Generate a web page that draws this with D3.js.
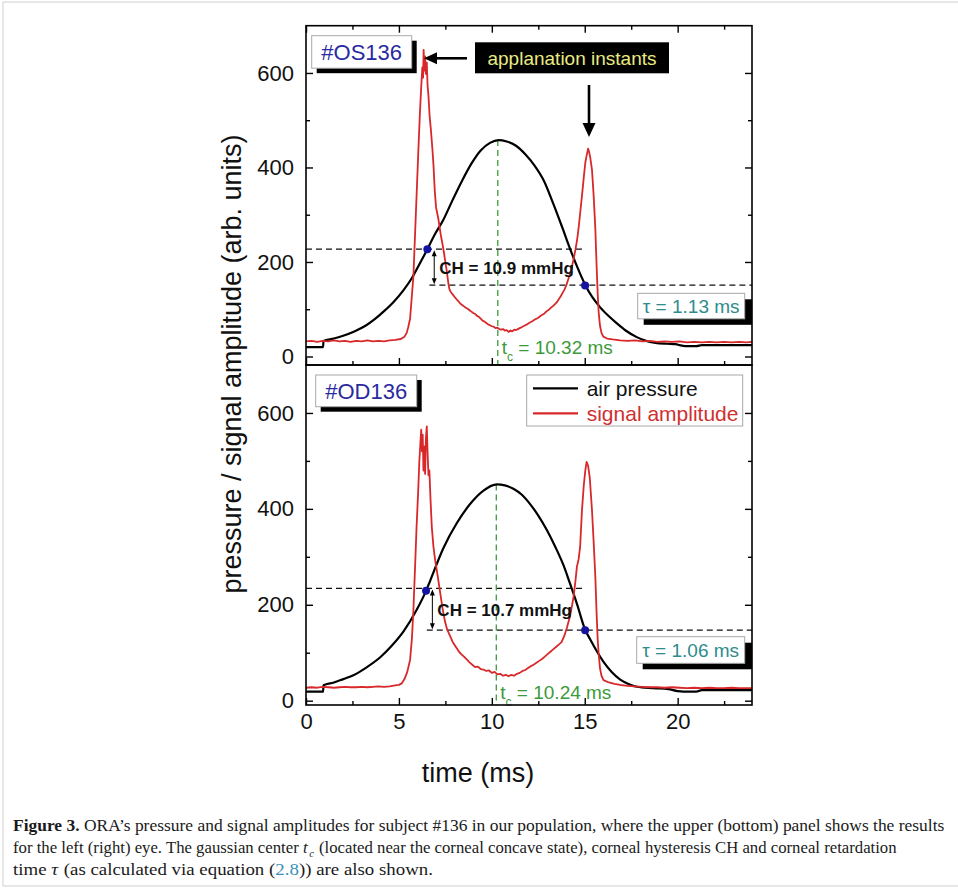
<!DOCTYPE html>
<html>
<head>
<meta charset="utf-8">
<script src="https://cdn.jsdelivr.net/npm/d3@7"></script>
<style>
  body { margin: 0; background: #fff; }
  svg { display: block; font-family: "Liberation Sans", Arial, sans-serif; }
</style>
</head>
<body>
<svg id="fig" width="958" height="888"></svg>
<script>
// ---- axes ----
const xDomain = [0, 24];
const xMajor = [0, 5, 10, 15, 20];
const xMinor = [2.5, 7.5, 12.5, 17.5, 22.5];
const yMajor = [0, 200, 400, 600];
const yMinor = [100, 300, 500];
const yDomains = [[-18, 700], [-9, 700]];

// ---- panel annotations ----
const panelIds = ["#OS136", "#OD136"];
const tcValues = [10.32, 10.24];
const tcPeaks = [458, 451];
const chLabels = ["CH = 10.9 mmHg", "CH = 10.7 mmHg"];
const chArrowTime = [6.9, 6.8];
const tauLabels = ["\u03c4 = 1.13 ms", "\u03c4 = 1.06 ms"];
const upperLevels = [227, 234];
const lowerLevels = [151, 147];
const upperSpan = [[0, 14.85], [0, 14.85]];
const lowerSpan = [[6.64, 24], [6.5, 24]];
const applanationPoints = [
  [[6.53, 227], [15.02, 150]],
  [[6.46, 229], [15.02, 147]]
];
const legendNames = ["air pressure", "signal amplitude"];

// ---- left eye (#OS136): air pressure, [time ms, amplitude] ----
const osPressure = [
  [0, 20], [0.92, 20], [0.94, 33], [1.5, 38], [2.0, 44], [2.6, 53], [3.2, 65], [3.7, 79],
  [4.2, 96], [4.7, 115], [5.24, 140], [5.7, 166], [6.1, 195], [6.53, 227], [6.9, 256],
  [7.4, 290], [7.9, 332], [8.4, 372], [8.9, 408], [9.4, 436], [9.9, 452], [10.36, 458],
  [10.8, 455], [11.3, 446], [11.8, 428], [12.3, 404], [12.8, 372], [13.3, 324], [13.8, 272],
  [14.2, 229], [14.6, 189], [15.02, 152], [15.4, 126], [15.83, 104], [16.3, 85], [16.73, 70],
  [17.2, 55], [17.8, 41], [18.3, 33], [18.8, 29], [19.4, 27], [19.9, 26], [20.1, 24],
  [20.4, 22], [21.0, 22], [21.3, 24], [22.0, 24], [24, 24]
];

// ---- left eye (#OS136): reflected signal amplitude ----
const osSignal = [
  [0, 32], [0.3, 33], [0.6, 31], [0.9, 33], [1.2, 32], [1.5, 34], [1.8, 32], [2.1, 33],
  [2.4, 31], [2.7, 33], [3.0, 32], [3.3, 34], [3.6, 32], [3.9, 33], [4.2, 32], [4.5, 34],
  [4.8, 35], [5.1, 37], [5.3, 42], [5.42, 50], [5.5, 62], [5.6, 80], [5.68, 120], [5.78, 170],
  [5.87, 260], [5.95, 340], [6.04, 430], [6.13, 515], [6.2, 570], [6.26, 612], [6.3, 590],
  [6.33, 649], [6.37, 605], [6.41, 635], [6.45, 598], [6.5, 622], [6.54, 575], [6.59, 552],
  [6.65, 510], [6.72, 480], [6.8, 440], [6.86, 405], [6.93, 350], [7.0, 315], [7.12, 292],
  [7.25, 258], [7.39, 228], [7.48, 205], [7.57, 182], [7.66, 155], [7.72, 142], [7.8, 136],
  [7.9, 131], [8.0, 126], [8.1, 121], [8.2, 117], [8.3, 112], [8.4, 109], [8.5, 106],
  [8.6, 103], [8.7, 101], [8.8, 98], [8.9, 95], [9.0, 92], [9.1, 90], [9.2, 86], [9.3, 84],
  [9.4, 80], [9.5, 76], [9.6, 74], [9.7, 71], [9.8, 68], [9.9, 66], [10.0, 64], [10.1, 63],
  [10.2, 60], [10.3, 61], [10.4, 58], [10.5, 57], [10.6, 58], [10.7, 55], [10.8, 56],
  [10.9, 52], [11.0, 55], [11.1, 53], [11.2, 57], [11.3, 56], [11.4, 58], [11.5, 60],
  [11.6, 62], [11.7, 64], [11.8, 66], [11.9, 68], [12.0, 71], [12.1, 73], [12.2, 75],
  [12.3, 78], [12.4, 80], [12.5, 82], [12.6, 85], [12.7, 88], [12.8, 90], [12.9, 94],
  [13.0, 97], [13.1, 100], [13.2, 104], [13.3, 107], [13.4, 111], [13.5, 115], [13.6, 121],
  [13.7, 127], [13.8, 134], [13.9, 141], [14.0, 150], [14.1, 162], [14.2, 174], [14.3, 188],
  [14.4, 206], [14.5, 226], [14.6, 250], [14.67, 272], [14.75, 302], [14.85, 340],
  [14.95, 380], [15.03, 410], [15.1, 425], [15.18, 440], [15.24, 432], [15.3, 420],
  [15.39, 395], [15.48, 340], [15.57, 270], [15.64, 190], [15.7, 130], [15.75, 93],
  [15.82, 65], [15.9, 50], [16.0, 42], [16.2, 38], [16.5, 36], [16.9, 34], [17.3, 33],
  [17.7, 34], [18.1, 32], [18.5, 33], [18.9, 31], [19.3, 32], [19.7, 31], [20.1, 32],
  [20.5, 30], [20.9, 31], [21.3, 30], [21.7, 31], [22.1, 30], [22.5, 31], [22.9, 30],
  [23.3, 31], [23.7, 30], [24, 31]
];

// ---- right eye (#OD136): air pressure ----
const odPressure = [
  [0, 19], [0.92, 19], [0.94, 32], [1.5, 38], [2.0, 45], [2.55, 53], [3.2, 68], [3.98, 90],
  [4.6, 114], [5.24, 144], [5.95, 189], [6.46, 229], [6.68, 250], [7.39, 318], [8.11, 370],
  [8.83, 410], [9.55, 438], [10.27, 451], [10.7, 449], [11.16, 442], [11.6, 430],
  [12.06, 410], [12.5, 386], [12.96, 356], [13.4, 322], [13.86, 282], [14.2, 245],
  [14.58, 202], [15.02, 148], [15.29, 128], [15.65, 103], [16.01, 81], [16.45, 60],
  [16.91, 44], [17.35, 35], [17.8, 29], [18.7, 26], [19.5, 24], [20.0, 20], [20.3, 19],
  [21.0, 19], [21.3, 22], [22.0, 22], [24, 22]
];

// ---- right eye (#OD136): reflected signal amplitude ----
const odSignal = [
  [0, 27], [0.3, 28], [0.6, 27], [0.9, 29], [1.2, 28], [1.5, 27], [1.8, 28], [2.1, 29],
  [2.4, 28], [2.7, 28], [3.0, 29], [3.3, 28], [3.6, 29], [3.9, 30], [4.2, 29], [4.5, 30],
  [4.8, 32], [5.0, 33], [5.15, 36], [5.3, 45], [5.45, 60], [5.6, 85], [5.7, 130], [5.78, 189],
  [5.86, 270], [5.95, 362], [6.04, 440], [6.1, 500], [6.16, 540], [6.2, 565], [6.24, 520],
  [6.28, 555], [6.32, 480], [6.36, 530], [6.41, 473], [6.45, 545], [6.5, 572], [6.54, 520],
  [6.59, 470], [6.64, 480], [6.7, 420], [6.77, 362], [6.86, 320], [6.95, 293], [7.08, 262],
  [7.21, 228], [7.35, 192], [7.48, 165], [7.6, 148], [7.75, 135], [7.9, 122], [8.05, 113],
  [8.2, 104], [8.35, 97], [8.5, 92], [8.65, 86], [8.8, 80], [8.95, 75], [9.1, 70], [9.25, 71],
  [9.4, 66], [9.55, 65], [9.7, 62], [9.85, 63], [10.0, 58], [10.15, 60], [10.3, 55],
  [10.45, 56], [10.6, 52], [10.75, 54], [10.9, 51], [11.05, 54], [11.2, 52], [11.35, 56],
  [11.5, 58], [11.65, 62], [11.8, 64], [11.95, 68], [12.1, 72], [12.25, 75], [12.4, 79],
  [12.55, 83], [12.7, 87], [12.85, 92], [13.0, 97], [13.15, 102], [13.3, 107], [13.45, 112],
  [13.6, 117], [13.75, 122], [13.9, 135], [14.04, 152], [14.2, 175], [14.3, 195], [14.4, 217],
  [14.5, 250], [14.58, 280], [14.67, 295], [14.75, 320], [14.85, 397], [14.95, 450],
  [15.03, 480], [15.1, 498], [15.18, 490], [15.27, 465], [15.39, 397], [15.48, 330],
  [15.57, 258], [15.64, 180], [15.7, 125], [15.75, 97], [15.82, 68], [15.9, 52], [16.01, 43],
  [16.3, 38], [16.6, 35], [16.9, 33], [17.3, 31], [17.7, 30], [18.1, 29], [18.5, 28],
  [18.9, 28], [19.3, 27], [19.7, 28], [20.1, 27], [20.5, 26], [20.9, 27], [21.3, 26],
  [21.7, 27], [22.1, 26], [22.5, 26], [22.9, 27], [23.3, 26], [23.7, 26], [24, 26]
];

// ---- style ----
const RED = "#d8282a";
const GREEN = "#3b9a3b";
const BLUE_DOT = "#1414a0";
const ID_BLUE = "#2a2aa0";
const TEAL = "#2e8c8c";

const svg = d3.select("#fig");

// thin page frame
svg.append("path")
  .attr("d", "M958,2H3V886H958")
  .attr("fill", "none").attr("stroke", "#cfcfcf").attr("stroke-width", 1);

const plotLeft = 306, plotRight = 752;
const bands = [[25.7, 365], [365, 705]];
const x = d3.scaleLinear().domain(xDomain).range([plotLeft, plotRight]);

const panels = [
  { pressure: osPressure, signal: osSignal },
  { pressure: odPressure, signal: odSignal }
];

const defs = svg.append("defs");

function arrowHead(g, tipX, tipY, dir, len, half) {
  // dir: "left", "down", "up"
  let pts;
  if (dir === "left") pts = [[tipX, tipY], [tipX + len, tipY - half], [tipX + len, tipY + half]];
  else if (dir === "down") pts = [[tipX, tipY], [tipX - half, tipY - len], [tipX + half, tipY - len]];
  else pts = [[tipX, tipY], [tipX - half, tipY + len], [tipX + half, tipY + len]];
  g.append("path").attr("d", "M" + pts.map(p => p.join(",")).join("L") + "Z").attr("fill", "#000");
}

panels.forEach((p, i) => {
  const [top, bottom] = bands[i];
  const y = d3.scaleLinear().domain(yDomains[i]).range([bottom, top]);
  const g = svg.append("g");

  const clipId = "clip" + i;
  defs.append("clipPath").attr("id", clipId)
    .append("rect").attr("x", plotLeft).attr("y", top)
    .attr("width", plotRight - plotLeft).attr("height", bottom - top);
  const plot = g.append("g").attr("clip-path", `url(#${clipId})`);

  // dashed applanation levels
  plot.append("line")
    .attr("x1", x(upperSpan[i][0])).attr("x2", x(upperSpan[i][1]))
    .attr("y1", y(upperLevels[i])).attr("y2", y(upperLevels[i]))
    .attr("stroke", "#111").attr("stroke-width", 1.2).attr("stroke-dasharray", "6,4");
  plot.append("line")
    .attr("x1", x(lowerSpan[i][0])).attr("x2", x(lowerSpan[i][1]))
    .attr("y1", y(lowerLevels[i])).attr("y2", y(lowerLevels[i]))
    .attr("stroke", "#111").attr("stroke-width", 1.2).attr("stroke-dasharray", "6,4");

  // gaussian centre
  plot.append("line")
    .attr("x1", x(tcValues[i])).attr("x2", x(tcValues[i]))
    .attr("y1", y(tcPeaks[i])).attr("y2", bottom)
    .attr("stroke", GREEN).attr("stroke-width", 1.3).attr("stroke-dasharray", "6,4");

  const line = d3.line().x(d => x(d[0])).y(d => y(d[1])).curve(d3.curveLinear);
  const smooth = d3.line().x(d => x(d[0])).y(d => y(d[1])).curve(d3.curveMonotoneX);

  plot.append("path").datum(p.pressure).attr("d", smooth)
    .attr("fill", "none").attr("stroke", "#000").attr("stroke-width", 2.2);
  plot.append("path").datum(p.signal).attr("d", line)
    .attr("fill", "none").attr("stroke", RED).attr("stroke-width", 1.8)
    .attr("stroke-linejoin", "round");

  // applanation points
  plot.selectAll("circle.pt").data(applanationPoints[i]).enter().append("circle")
    .attr("cx", d => x(d[0])).attr("cy", d => y(d[1])).attr("r", 4)
    .attr("fill", BLUE_DOT);

  // CH double arrow and label
  const ax = x(chArrowTime[i]);
  const yU = y(upperLevels[i]), yL = y(lowerLevels[i]);
  g.append("line").attr("x1", ax).attr("x2", ax).attr("y1", yU + 4).attr("y2", yL - 4)
    .attr("stroke", "#000").attr("stroke-width", 1);
  arrowHead(g, ax, yU + 1, "up", 6, 2.5);
  arrowHead(g, ax, yL - 1, "down", 6, 2.5);
  g.append("text").attr("x", ax + 5).attr("y", (yU + yL) / 2 + 7)
    .attr("font-size", 17).attr("font-weight", "bold").attr("fill", "#111")
    .text(chLabels[i]);

  // t_c label
  const tcText = g.append("text").attr("x", x(tcValues[i]) + 4).attr("y", y(0) - 2)
    .attr("font-size", 19).attr("fill", GREEN);
  tcText.append("tspan").text("t");
  tcText.append("tspan").attr("font-size", 12).attr("dy", 7).text("c");
  tcText.append("tspan").attr("dy", -7).text(" = " + tcValues[i].toFixed(2) + " ms");

  // frame
  g.append("rect").attr("x", plotLeft).attr("y", top)
    .attr("width", plotRight - plotLeft).attr("height", bottom - top)
    .attr("fill", "none").attr("stroke", "#000").attr("stroke-width", 1.6);

  // ticks (inward, mirrored)
  const noLab = () => "";
  const leftMaj = d3.axisLeft(y).tickValues(yMajor).tickSizeInner(-7).tickSizeOuter(0).tickPadding(12);
  const leftMin = d3.axisLeft(y).tickValues(yMinor).tickSizeInner(-4).tickSizeOuter(0).tickFormat(noLab);
  const rightMaj = d3.axisRight(y).tickValues(yMajor).tickSizeInner(-7).tickSizeOuter(0).tickFormat(noLab);
  const rightMin = d3.axisRight(y).tickValues(yMinor).tickSizeInner(-4).tickSizeOuter(0).tickFormat(noLab);
  [[leftMaj, plotLeft], [leftMin, plotLeft], [rightMaj, plotRight], [rightMin, plotRight]].forEach(([ax2, px]) => {
    const a = g.append("g").attr("transform", `translate(${px},0)`).call(ax2);
    a.select(".domain").remove();
    a.selectAll("line").attr("stroke", "#000").attr("stroke-width", 1.4);
    a.selectAll("text").attr("font-size", 22).attr("fill", "#111")
      .attr("font-family", '"Liberation Sans", Arial, sans-serif');
  });
  const bottomMaj = d3.axisBottom(x).tickValues(xMajor).tickSizeInner(-7).tickSizeOuter(0).tickPadding(8)
    .tickFormat(i === 1 ? d3.format("d") : noLab);
  const bottomMin = d3.axisBottom(x).tickValues(xMinor).tickSizeInner(-4).tickSizeOuter(0).tickFormat(noLab);
  const topMaj = d3.axisTop(x).tickValues(xMajor).tickSizeInner(-7).tickSizeOuter(0).tickFormat(noLab);
  const topMin = d3.axisTop(x).tickValues(xMinor).tickSizeInner(-4).tickSizeOuter(0).tickFormat(noLab);
  const xAxes = [[bottomMaj, bottom], [bottomMin, bottom]];
  if (i === 0) xAxes.push([topMaj, top], [topMin, top]);
  xAxes.forEach(([ax2, py]) => {
    const a = g.append("g").attr("transform", `translate(0,${py})`).call(ax2);
    a.select(".domain").remove();
    a.selectAll("line").attr("stroke", "#000").attr("stroke-width", 1.4);
    a.selectAll("text").attr("font-size", 22).attr("fill", "#111")
      .attr("font-family", '"Liberation Sans", Arial, sans-serif');
  });

  // eye id box with drop shadow
  const idBox = [[311.7, 35.7, 100, 32.5], [315.7, 375, 101, 31.7]][i];
  g.append("rect").attr("x", idBox[0] + 5).attr("y", idBox[1] + 5)
    .attr("width", idBox[2]).attr("height", idBox[3]).attr("fill", "#000");
  g.append("rect").attr("x", idBox[0]).attr("y", idBox[1])
    .attr("width", idBox[2]).attr("height", idBox[3])
    .attr("fill", "#fff").attr("stroke", "#a8a8a8").attr("stroke-width", 1);
  g.append("text").attr("x", idBox[0] + idBox[2] / 2).attr("y", idBox[1] + idBox[3] / 2 + 8)
    .attr("text-anchor", "middle").attr("font-size", 22).attr("fill", ID_BLUE)
    .text(panelIds[i]);

  // retardation time box with drop shadow
  const tauBox = [[637.7, 293.3, 107, 25.5], [636.7, 636.7, 108, 26.6]][i];
  g.append("rect").attr("x", tauBox[0] + 6).attr("y", tauBox[1] + 6)
    .attr("width", plotRight - tauBox[0] - 6).attr("height", tauBox[3]).attr("fill", "#000");
  g.append("rect").attr("x", tauBox[0]).attr("y", tauBox[1])
    .attr("width", tauBox[2]).attr("height", tauBox[3])
    .attr("fill", "#fff").attr("stroke", "#a8a8a8").attr("stroke-width", 1);
  g.append("text").attr("x", tauBox[0] + tauBox[2] / 2).attr("y", tauBox[1] + tauBox[3] / 2 + 7)
    .attr("text-anchor", "middle").attr("font-size", 19).attr("fill", TEAL)
    .text(tauLabels[i]);

  if (i === 0) {
    // applanation call-out
    g.append("rect").attr("x", 475).attr("y", 42.3).attr("width", 194).attr("height", 31)
      .attr("fill", "#000");
    g.append("text").attr("x", 572).attr("y", 64.5).attr("text-anchor", "middle")
      .attr("font-size", 19).attr("fill", "#eaea84").text("applanation instants");
    g.append("line").attr("x1", 467).attr("x2", 436).attr("y1", 58.3).attr("y2", 58.3)
      .attr("stroke", "#000").attr("stroke-width", 2.6);
    arrowHead(g, 424, 58.3, "left", 13, 6);
    g.append("line").attr("x1", 589).attr("x2", 589).attr("y1", 85).attr("y2", 125)
      .attr("stroke", "#000").attr("stroke-width", 2.6);
    arrowHead(g, 589, 137, "down", 14, 6.5);
  } else {
    // legend
    const lg = g.append("g");
    lg.append("rect").attr("x", 526.7).attr("y", 375).attr("width", 216).attr("height", 51)
      .attr("fill", "#fff").attr("stroke", "#a8a8a8").attr("stroke-width", 1);
    const lcolors = ["#000", RED];
    legendNames.forEach((name, k) => {
      const ly = 388.3 + k * 25;
      lg.append("line").attr("x1", 533).attr("x2", 578).attr("y1", ly).attr("y2", ly)
        .attr("stroke", lcolors[k]).attr("stroke-width", 2.2);
      lg.append("text").attr("x", 586.7).attr("y", ly + 7.5).attr("font-size", 21)
        .attr("fill", k === 0 ? "#111" : "#d03030").text(name);
    });
  }
});

// axis titles
svg.append("text")
  .attr("transform", "translate(241,364) rotate(-90)")
  .attr("text-anchor", "middle").attr("font-size", 27).attr("fill", "#111")
  .text("pressure / signal amplitude (arb. units)");
svg.append("text")
  .attr("x", 478).attr("y", 782).attr("text-anchor", "middle")
  .attr("font-size", 27).attr("fill", "#111").text("time (ms)");

// caption: each line is laid out segment by segment, then squeezed to its width
const cap = svg.append("g").attr("font-family", '"Liberation Serif", "Times New Roman", serif')
  .attr("font-size", 17.5).attr("fill", "#1a1a1a");

function captionLine(baseY, width, segments) {
  const lineG = cap.append("g");
  let cursor = 0;
  segments.forEach(s => {
    const t = lineG.append("text").attr("x", cursor).attr("y", s.dy || 0).text(s.text);
    if (s.bold) t.attr("font-weight", "bold");
    if (s.italic) t.attr("font-style", "italic");
    if (s.size) t.attr("font-size", s.size);
    if (s.fill) t.attr("fill", s.fill);
    cursor += t.node().getComputedTextLength() + (s.gap || 0);
  });
  lineG.attr("transform", `translate(13,${baseY}) scale(${width / cursor},1)`);
}

captionLine(831, 932, [
  { text: "Figure 3.", bold: true },
  { text: "\u00a0ORA\u2019s pressure and signal amplitudes for subject #136 in our population, where the upper (bottom) panel shows the results" }
]);
captionLine(853, 884, [
  { text: "for the left (right) eye. The gaussian center\u00a0" },
  { text: "t", italic: true, gap: 1.5 },
  { text: "c", italic: true, size: 11, dy: 4, gap: 1 },
  { text: "\u00a0(located near the corneal concave state), corneal hysteresis CH and corneal retardation" }
]);
captionLine(875, 420, [
  { text: "time\u00a0" },
  { text: "\u03c4", italic: true, gap: 1 },
  { text: "\u00a0(as calculated via equation (" },
  { text: "2.8", fill: "#3a8fb8" },
  { text: ")) are also shown." }
]);
</script>
</body>
</html>
